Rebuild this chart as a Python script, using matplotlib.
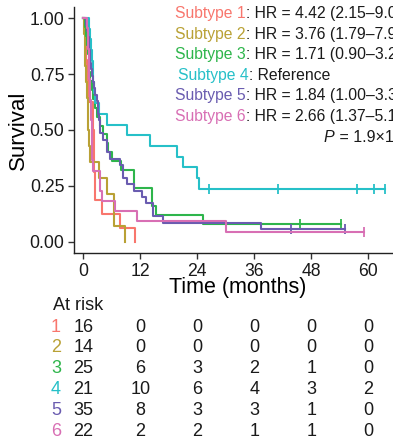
import matplotlib
matplotlib.use('Agg')
import matplotlib.pyplot as plt
import matplotlib.transforms as mtransforms

plt.rcParams['font.family'] = ['Liberation Sans', 'DejaVu Sans']

names = ['Subtype 1', 'Subtype 2', 'Subtype 3', 'Subtype 4', 'Subtype 5', 'Subtype 6']
colors = ['#F8766D', '#B9A135', '#2EB54B', '#26C0C8', '#6A5CB0', '#D86FB4']
hr_labels = [': HR = 4.42 (2.15–9.08)',
             ': HR = 3.76 (1.79–7.91)',
             ': HR = 1.71 (0.90–3.25)',
             ': Reference',
             ': HR = 1.84 (1.00–3.38)',
             ': HR = 2.66 (1.37–5.17)']
p_label = ' = 1.9×10⁻⁴'

# event (death) times and censoring times, months
deaths_1 = [0.3, 0.5, 0.6, 0.8, 1.0, 1.2, 2.0, 2.1, 2.2, 2.2, 2.3, 2.4, 2.5, 4.0, 7.8, 10.9]
cens_1 = []
deaths_2 = [0.2, 0.3, 0.4, 0.6, 0.7, 0.9, 1.0, 1.2, 1.4, 3.2, 4.9, 6.5, 6.5, 8.8]
cens_2 = []
deaths_3 = [0.3, 0.5, 0.7, 0.9, 1.1, 1.3, 1.5, 1.8, 2.0, 2.4, 2.8, 3.5, 4.2, 4.9,
            5.3, 6.0, 8.0, 10.7, 10.7, 14.4, 14.4, 15.4, 25.1]
cens_3 = [45.7, 54.3]
deaths_4 = [1.2, 1.4, 1.6, 1.8, 2.0, 2.1, 2.2, 2.4, 3.2, 5.0, 9.1, 14.0, 19.7, 21.0, 23.9, 24.4]
cens_4 = [26.5, 41.0, 57.7, 61.2, 63.5]
deaths_5 = [0.6, 0.8, 1.0, 1.2, 1.3, 1.4, 1.5, 1.6, 1.8, 2.0, 2.2, 2.5, 2.8, 3.1, 3.1, 3.3,
            3.5, 3.5, 4.2, 4.9, 4.9, 5.6, 7.7, 8.4, 8.4, 9.1, 10.7, 12.3, 13.3, 14.7, 14.7,
            16.8, 37.4]
cens_5 = [43.7, 55.2]
deaths_6 = [0.8, 0.9, 1.0, 1.1, 1.2, 1.3, 1.4, 1.5, 1.6, 1.7, 1.8, 1.8, 1.9, 1.9, 2.0,
            3.5, 3.5, 4.0, 6.7, 11.3, 30.0]
cens_6 = [59.2]

all_deaths = [deaths_1, deaths_2, deaths_3, deaths_4, deaths_5, deaths_6]
all_cens = [cens_1, cens_2, cens_3, cens_4, cens_5, cens_6]

risk_times = [0, 12, 24, 36, 48, 60]
at_risk_1 = [16, 0, 0, 0, 0, 0]
at_risk_2 = [14, 0, 0, 0, 0, 0]
at_risk_3 = [25, 6, 3, 2, 1, 0]
at_risk_4 = [21, 10, 6, 4, 3, 2]
at_risk_5 = [35, 8, 3, 3, 1, 0]
at_risk_6 = [22, 2, 2, 1, 1, 0]
at_risk = [at_risk_1, at_risk_2, at_risk_3, at_risk_4, at_risk_5, at_risk_6]


def kaplan_meier(deaths, cens):
    times = sorted(set(deaths) | set(cens))
    n = len(deaths) + len(cens)
    s = 1.0
    xs, ys, cx, cy = [0.0], [1.0], [], []
    for t in times:
        d = deaths.count(t)
        c = cens.count(t)
        if d:
            s *= 1 - d / n
            xs.append(t)
            ys.append(s)
        if c:
            cx.append(t)
            cy.append(s)
        n -= d + c
    xs.append(times[-1])
    ys.append(s)
    return xs, ys, cx, cy


W, H = 393, 441
fig = plt.figure(figsize=(W / 100, H / 100), dpi=100)
ax = fig.add_axes([74 / W, 1 - 253 / H, (401 - 74) / W, 246 / H])

for d, c, col in zip(all_deaths, all_cens, colors):
    xs, ys, cx, cy = kaplan_meier(d, c)
    ax.step(xs, ys, where='post', color=col, lw=1.5)
    if cx:
        ax.plot(cx, cy, '|', color=col, ms=6.5, mew=1.3)

ax.set_xlim(-1.96, 66.9)
ax.set_ylim(-0.05, 1.05)
ax.set_xticks(risk_times)
ax.set_yticks([0, 0.25, 0.5, 0.75, 1.0])
ax.set_yticklabels(['0.00', '0.25', '0.50', '0.75', '1.00'])
for s in ['top', 'right']:
    ax.spines[s].set_visible(False)
for s in ['left', 'bottom']:
    ax.spines[s].set_linewidth(1.0)
    ax.spines[s].set_color('#222222')
ax.tick_params(length=4, width=1.0, color='#333333', labelsize=12.7, labelcolor='#1a1a1a', pad=3)

ax.set_xlabel('Time (months)', fontsize=15.5)
ax.xaxis.label.set_va('center')
ax.xaxis.set_label_coords(0.5, (253 - 288) / 246)
ax.set_ylabel('Survival', fontsize=16)
ax.yaxis.label.set_va('center')
ax.yaxis.set_label_coords((18 - 74) / 327, 0.5)

# legend text with coloured names
leg_x = [175, 175, 175, 178, 175, 175]
for i, (nm, col, rest) in enumerate(zip(names, colors, hr_labels)):
    y = 1 - (13.5 + 20.6 * i) / H
    t1 = fig.text(leg_x[i] / W, y, nm, color=col, fontsize=11.3, va='center')
    ax.annotate(rest, xy=(1, 0), xycoords=t1, va='bottom', fontsize=11.3, color='#1a1a1a')
tp = fig.text(324 / W, 1 - 137 / H, 'P', style='italic', fontsize=11.5, va='center', color='#1a1a1a')
ax.annotate(p_label, xy=(1, 0), xycoords=tp, va='bottom', fontsize=11.5, color='#1a1a1a')

# number at risk table
trans = mtransforms.blended_transform_factory(ax.transData, fig.transFigure)
fig.text(53 / W, 1 - 305 / H, 'At risk', fontsize=13, va='center', color='#1a1a1a')
for i, (row, col) in enumerate(zip(at_risk, colors)):
    y = 1 - (327 + 20.8 * i) / H
    fig.text(56 / W, y, str(i + 1), color=col, fontsize=13, ha='center', va='center')
    for t, n in zip(risk_times, row):
        ax.text(t, y, str(n), transform=trans, fontsize=13, ha='center', va='center',
                clip_on=False, color='#1a1a1a')

fig.savefig('out.png', dpi=100)
